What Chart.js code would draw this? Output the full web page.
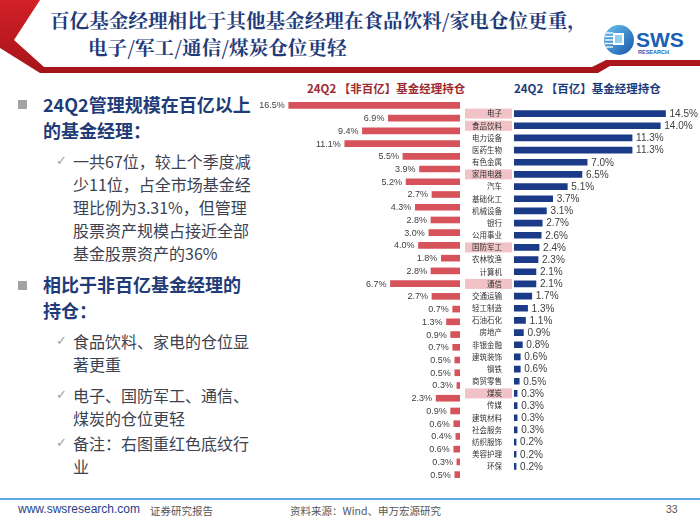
<!DOCTYPE html>
<html>
<head>
<meta charset="utf-8">
<script src="https://cdn.jsdelivr.net/npm/chart.js@4.4.1/dist/chart.umd.min.js"></script>
<style>
    body { margin: 0; width: 700px; height: 525px; position: relative; overflow: hidden; background: #fff; font-family: "Noto Sans CJK SC", sans-serif; }
    .abs { position: absolute; white-space: nowrap; }
    .title { left: 0; top: 6px; width: 600px; font-size: 19.6px; font-weight: 700; color: #1f3b7a; line-height: 27px; font-family: "Noto Serif CJK SC", "Noto Sans CJK SC", serif; }
    .head { font-size: 18px; font-weight: 700; color: #1f3c78; line-height: 26px; }
    .sub { font-size: 16px; color: #3c4250; line-height: 23px; }
    .box { width: 9px; height: 9px; background: #a3a3a3; }
    .tick { font-family: "DejaVu Sans", sans-serif; font-size: 13px; color: #a0a0a0; }
    .ctitle { font-size: 11.5px; font-weight: 700; top: 80px; }
    .foot { top: 503px; font-size: 10.5px; color: #555; font-family: "Liberation Sans", Arial, sans-serif; }
    canvas { position: absolute; }
</style>
</head>
<body>
<svg class="abs" style="left:0;top:0" width="700" height="80">
    <defs>
        <linearGradient id="logoGrad" x1="0" y1="0" x2="1" y2="1">
            <stop offset="0" stop-color="#6cc3f0"/>
            <stop offset="1" stop-color="#1457a8"/>
        </linearGradient>
        <linearGradient id="barGrad" x1="0" y1="0" x2="0" y2="1">
            <stop offset="0" stop-color="#d32027"/>
            <stop offset="1" stop-color="#a5141a"/>
        </linearGradient>
    </defs>
    <polygon points="0,0 40,0 14,40 44,67 592,67 606,60 700,60 700,66 610,66 598,73 40,73 0,48" fill="url(#barGrad)"/>
    <circle cx="619" cy="40" r="15" fill="url(#logoGrad)"/>
    <g stroke="#fff" stroke-width="1.3">
        <line x1="606" y1="33" x2="613" y2="33"/>
        <line x1="605" y1="36.5" x2="613" y2="36.5"/>
        <line x1="605" y1="40" x2="613" y2="40"/>
        <line x1="605" y1="43.5" x2="613" y2="43.5"/>
        <line x1="606" y1="47" x2="613" y2="47"/>
    </g>
    <rect x="613" y="33" width="11" height="12" fill="#fff"/>
    <rect x="615" y="35" width="7" height="8" fill="#8fd0f4"/>
    <text x="636" y="47" font-family="Liberation Sans, Arial" font-weight="700" font-size="21" fill="#1a5fb4">SWS</text>
    <text x="638" y="54" font-family="Liberation Sans, Arial" font-weight="700" font-size="5.5" fill="#1a5fb4">RESEARCH</text>
</svg>

<div class="abs title"><span style="margin-left:50px">百亿基金经理相比于其他基金经理在食品饮料/家电仓位更重，</span><br><span style="margin-left:88px">电子/军工/通信/煤炭仓位更轻</span></div>

<div class="abs box" style="left:18px;top:100px"></div>
<div class="abs head" style="left:43px;top:91px">24Q2管理规模在百亿以上<br>的基金经理：</div>
<div class="abs tick" style="left:56px;top:153px">✓</div>
<div class="abs sub" style="left:73px;top:150px">一共67位，较上个季度减<br>少11位，占全市场基金经<br>理比例为3.31%，但管理<br>股票资产规模占接近全部<br>基金股票资产的36%</div>

<div class="abs box" style="left:18px;top:281px"></div>
<div class="abs head" style="left:43px;top:271px">相比于非百亿基金经理的<br>持仓：</div>
<div class="abs tick" style="left:56px;top:333px">✓</div>
<div class="abs sub" style="left:73px;top:330px">食品饮料、家电的仓位显<br>著更重</div>
<div class="abs tick" style="left:56px;top:387px">✓</div>
<div class="abs sub" style="left:73px;top:384px">电子、国防军工、通信、<br>煤炭的仓位更轻</div>
<div class="abs tick" style="left:56px;top:435px">✓</div>
<div class="abs sub" style="left:73px;top:432px">备注：右图重红色底纹行<br>业</div>

<div class="abs ctitle" style="left:307px;color:#9e2a30">24Q2 【非百亿】基金经理持仓</div>
<div class="abs ctitle" style="left:514px;color:#1d3b7c">24Q2 【百亿】基金经理持仓</div>

<canvas id="leftChart" width="205" height="382" style="left:255px;top:99px"></canvas>
<canvas id="rightChart" width="240" height="382" style="left:460px;top:99px"></canvas>

<div class="abs" style="left:0;top:498px;width:700px;height:2px;background:#5aa9e0"></div>
<div class="abs foot" style="left:18px;color:#24408c;font-size:12px;top:502px">www.swsresearch.com</div>
<div class="abs foot" style="left:150px;font-family:'Noto Sans CJK SC'">证券研究报告</div>
<div class="abs foot" style="left:290px;font-family:'Noto Sans CJK SC'">资料来源：Wind、申万宏源研究</div>
<div class="abs foot" style="left:666px">33</div>

<script>
const industries = ["电子", "食品饮料", "电力设备", "医药生物", "有色金属", "家用电器", "汽车", "基础化工", "机械设备", "银行",
    "公用事业", "国防军工", "农林牧渔", "计算机", "通信", "交通运输", "轻工制造", "石油石化", "房地产", "非银金融",
    "建筑装饰", "钢铁", "商贸零售", "煤炭", "传媒", "建筑材料", "社会服务", "纺织服饰", "美容护理", "环保"];
const nonTopShare = [16.5, 6.9, 9.4, 11.1, 5.5, 3.9, 5.2, 2.7, 4.3, 2.8,
    3.0, 4.0, 1.8, 2.8, 6.7, 2.7, 0.7, 1.3, 0.9, 0.7,
    0.5, 0.5, 0.3, 2.3, 0.9, 0.6, 0.4, 0.6, 0.3, 0.5];
const topShare = [14.5, 14.0, 11.3, 11.3, 7.0, 6.5, 5.1, 3.7, 3.1, 2.7,
    2.6, 2.4, 2.3, 2.1, 2.1, 1.7, 1.3, 1.1, 0.9, 0.8,
    0.6, 0.6, 0.5, 0.3, 0.3, 0.3, 0.3, 0.2, 0.2, 0.2];
const highlighted = ["电子", "食品饮料", "家用电器", "国防军工", "通信", "煤炭"];

// Percent labels next to each bar
const valueLabels = (side, fontSize) => ({
    id: "valueLabels",
    afterDatasetsDraw(chart) {
        const ctx = chart.ctx;
        const meta = chart.getDatasetMeta(0);
        ctx.save();
        ctx.font = `${fontSize}px "Liberation Sans", Arial, sans-serif`;
        ctx.fillStyle = "#404040";
        ctx.textBaseline = "middle";
        ctx.textAlign = side === "left" ? "right" : "left";
        meta.data.forEach((bar, i) => {
            const text = chart.data.datasets[0].data[i].toFixed(1) + "%";
            const x = side === "left" ? bar.x - 4 : bar.x + 4;
            ctx.fillText(text, x, bar.y + 0.5);
        });
        ctx.restore();
    }
});

// Pink band behind highlighted industry names
const highlightRows = {
    id: "highlightRows",
    beforeDraw(chart) {
        const ctx = chart.ctx;
        const yScale = chart.scales.y;
        ctx.save();
        ctx.fillStyle = "#f1c3c6";
        industries.forEach((name, i) => {
            if (highlighted.includes(name)) {
                const y = yScale.getPixelForValue(i);
                ctx.fillRect(5, y - 5, 47, 10);
            }
        });
        ctx.restore();
    }
};

new Chart(document.getElementById("leftChart"), {
    type: "bar",
    data: {
        labels: industries,
        datasets: [{ data: nonTopShare, backgroundColor: "#d6535b", barThickness: 6 }]
    },
    options: {
        indexAxis: "y",
        responsive: false,
        animation: false,
        layout: { padding: 0 },
        plugins: { legend: { display: false }, tooltip: { enabled: false } },
        scales: {
            x: { reverse: true, min: 0, max: 19.75, display: false },
            y: { display: false }
        }
    },
    plugins: [valueLabels("left", 9)]
});

new Chart(document.getElementById("rightChart"), {
    type: "bar",
    data: {
        labels: industries,
        datasets: [{ data: topShare, backgroundColor: "#1b3a87", barThickness: 6 }]
    },
    options: {
        indexAxis: "y",
        responsive: false,
        animation: false,
        layout: { padding: 0 },
        plugins: { legend: { display: false }, tooltip: { enabled: false } },
        scales: {
            x: { min: 0, max: 17.8, display: false },
            y: {
                grid: { display: false },
                border: { display: false },
                ticks: { autoSkip: false, padding: 4, color: "#333", font: { size: 7.5, family: "Noto Sans CJK SC" } },
                afterFit: (scale) => { scale.width = 54; }
            }
        }
    },
    plugins: [highlightRows, valueLabels("right", 10)]
});
</script>
</body>
</html>
